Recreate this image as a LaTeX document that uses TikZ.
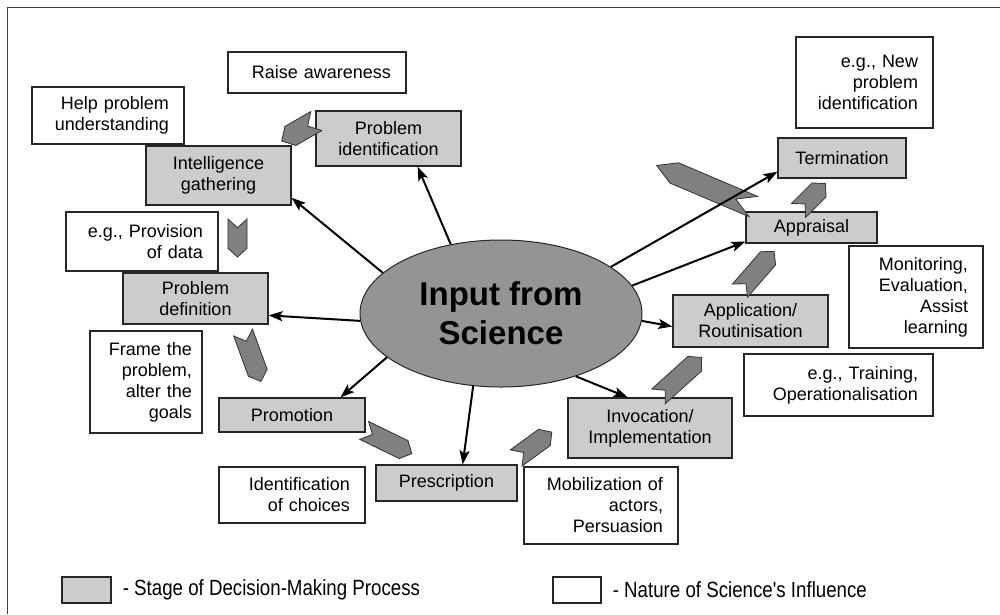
\documentclass[tikz,border=0pt]{standalone}
\usepackage{fontspec}
\setmainfont{Liberation Sans}
\newfontfamily\legendfont[FakeStretch=0.85]{Liberation Sans}
\usetikzlibrary{arrows.meta, positioning, shapes.geometric, shapes.symbols}

\tikzset{
  stage/.style={draw=black!85, line width=1.2pt, fill=black!20, align=center,
    inner sep=0pt, font=\fontsize{18}{21}\selectfont},
  infl/.style={draw=black!85, line width=1.2pt, fill=white, align=right,
    inner xsep=15pt, inner ysep=0pt, font=\fontsize{18}{21}\selectfont},
  chev/.style={signal, signal to=east, signal from=west, signal pointer angle=95,
    draw=black!80, line width=0.8pt, fill=black!50, inner sep=0pt},
  legtext/.style={inner sep=0pt, font=\legendfont\fontsize{22}{24}\selectfont},
}

\begin{document}
\begin{tikzpicture}[x=1pt, y=-1pt, >={Stealth[length=14pt, width=10pt, inset=3pt]}]
      \useasboundingbox (0,0) rectangle (1000,614);
      \draw[line width=1.5pt, black!75] (7.5,614) -- (7.5,7.5) -- (1000,7.5);

      % science
      \node[ellipse, draw=black!85, line width=1pt, fill=black!42, minimum width=282pt,
        minimum height=147pt, inner sep=0pt, align=center,
        font=\bfseries\fontsize{33}{39}\selectfont] (sci) at (501,313.5) {Input from\\Science};

      % stages
      \node[stage, minimum width=145pt, minimum height=59pt] (intel) at (218.5,175.5) {Intelligence\\gathering};
      \node[stage, minimum width=145pt, minimum height=55pt] (probid) at (388.5,138.5) {Problem\\identification};
      \node[stage, minimum width=145pt, minimum height=51pt] (probdef) at (195.5,298.5) {Problem\\definition};
      \node[stage, minimum width=146pt, minimum height=34pt] (promo) at (292,415) {Promotion};
      \node[stage, minimum width=141pt, minimum height=36pt] (presc) at (446.5,483) {Prescription};
      \node[stage, minimum width=164pt, minimum height=60pt] (invoc) at (650,428) {Invocation/\\Implementation};
      \node[stage, minimum width=155pt, minimum height=52pt] (appl) at (750.5,321) {Application/\\Routinisation};
      \node[stage, minimum width=131pt, minimum height=31pt] (appr) at (811.5,227.5) {Appraisal};
      \node[stage, minimum width=128pt, minimum height=40pt] (term) at (842,158) {Termination};

      % influence
      \node[infl, text width=148pt, minimum height=41pt] (raise) at (317,72.5) {Raise awareness};
      \node[infl, text width=122pt, minimum height=57pt] (help) at (108,115.5) {Help problem\\understanding};
      \node[infl, text width=122pt, minimum height=59pt] (provis) at (142,241.5) {e.g., Provision\\of data};
      \node[infl, text width=92pt, minimum height=102pt, inner xsep=10pt] (frame) at (146,382) {Frame the\\problem,\\alter the\\goals};
      \node[infl, text width=116pt, minimum height=56pt] (ident) at (292,495) {Identification\\of choices};
      \node[infl, text width=124pt, minimum height=77pt] (mobil) at (601,505.5) {Mobilization of\\actors,\\Persuasion};
      \node[infl, text width=159pt, minimum height=62pt] (train) at (838.5,385) {e.g., Training,\\Operationalisation};
      \node[infl, text width=104pt, minimum height=102pt] (monit) at (916,297) {Monitoring,\\Evaluation,\\Assist\\learning};
      \node[infl, text width=107pt, minimum height=91pt] (newp) at (864.5,82.5) {e.g., New\\problem\\identification};

      % chevrons
      \node[chev, minimum width=40pt, minimum height=22pt, rotate=210] (c1) at (299,131) {};
      \node[chev, minimum width=38pt, minimum height=19pt, rotate=-90] (c2) at (237.5,238) {};
      \node[chev, minimum width=52pt, minimum height=20pt, rotate=-70] (c3) at (252,357) {};
      \node[chev, minimum width=53pt, minimum height=20pt, rotate=-26] (c4) at (388,442) {};
      \node[chev, minimum width=44pt, minimum height=20pt, rotate=36] (c5) at (534,445) {};
      \node[chev, minimum width=58pt, minimum height=20pt, rotate=42] (c6) at (680,377) {};
      \node[chev, minimum width=52pt, minimum height=20pt, rotate=49] (c7) at (757,271) {};
      \node[chev, minimum width=38pt, minimum height=20pt, rotate=45] (c8) at (812,197) {};
      \node[chev, minimum width=105pt, minimum height=22pt, signal pointer angle=60, rotate=157] (c9) at (705,186) {};

      % arrows from science
      \draw[->, line width=2pt] (sci.161) -- (intel.-17);
      \draw[->, line width=2pt] (sci.126) -- (probid.-44);
      \draw[->, line width=2pt] (sci.183) -- (probdef.-13);
      \draw[->, line width=2pt] (sci.201) -- (promo.20);
      \draw[->, line width=2pt] (sci.249) -- (presc.49);
      \draw[->, line width=2pt] (sci.-40) -- (invoc.126);
      \draw[->, line width=2pt] (sci.-3) -- (appl.184);
      \draw[->, line width=2pt] (sci.12) -- (appr.192);
      \draw[->, line width=2pt] (sci.23) -- (term.192);

      % legend
      \node[stage, minimum width=49pt, minimum height=26pt] (legstage) at (86.5,590) {};
      \node[legtext, right=11pt of legstage] (legstagetxt) {- Stage of Decision-Making Process};
      \node[infl, inner xsep=0pt, minimum width=48pt, minimum height=26pt] (leginfl) at (577,590) {};
      \node[legtext, right=11pt of leginfl] (leginfltxt) {- Nature of Science's Influence};
    \end{tikzpicture}
\end{document}
